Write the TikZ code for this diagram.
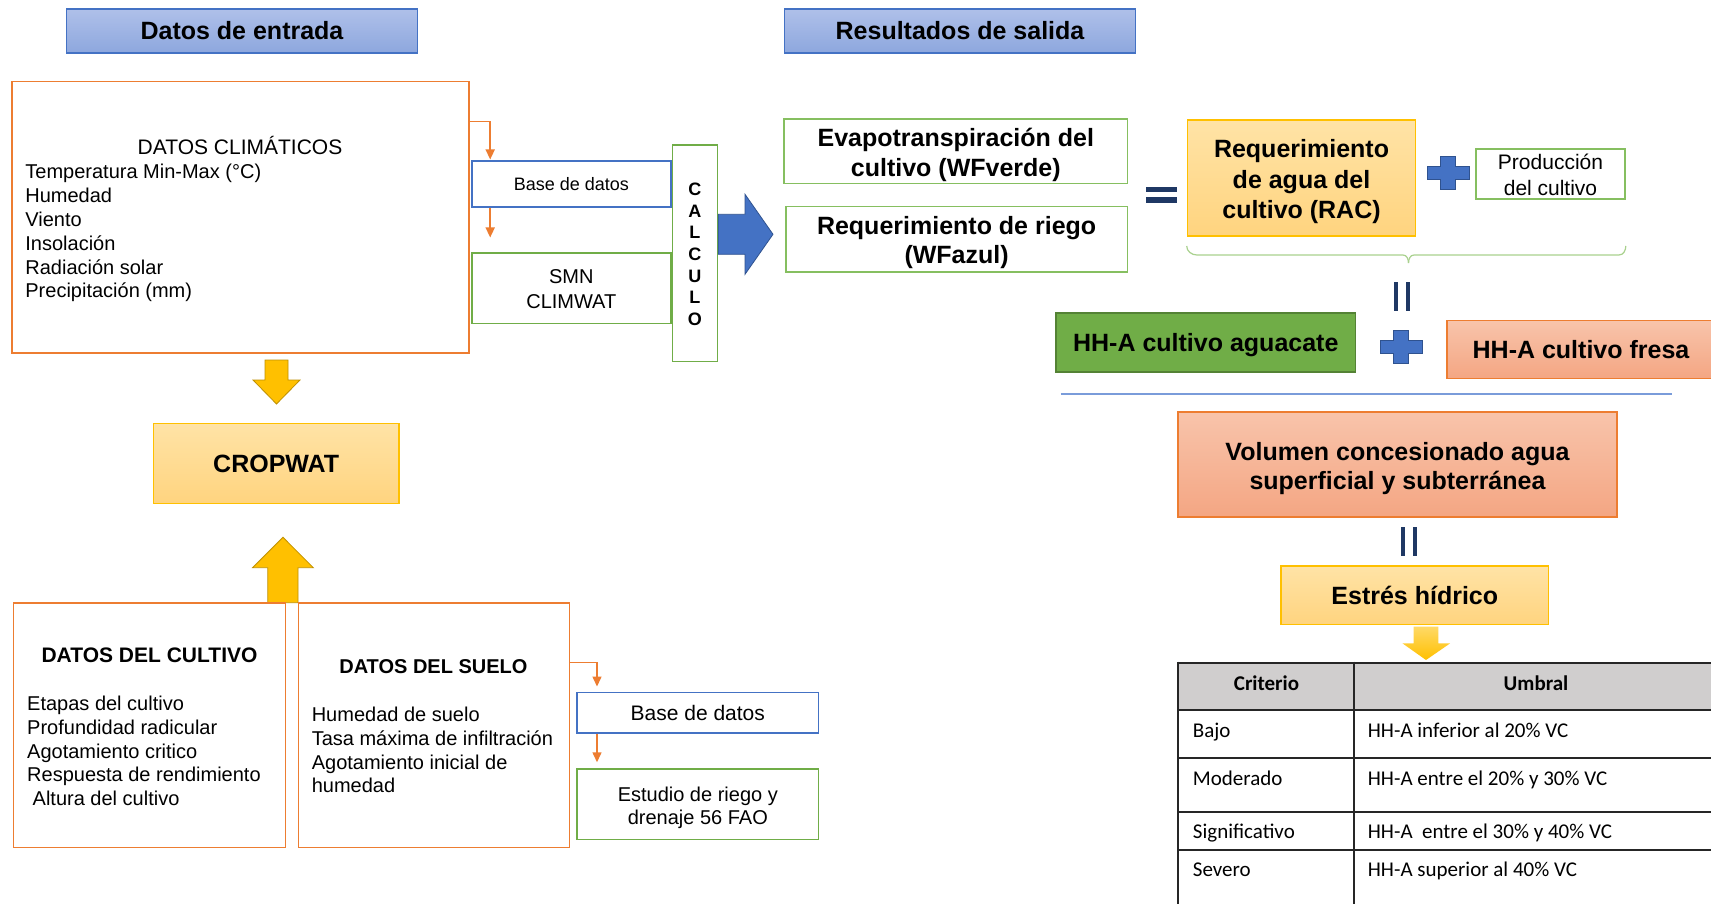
\documentclass[tikz,border=0pt]{standalone}
\usepackage{fontspec}
\setmainfont{Liberation Sans}
\newfontfamily\carlfont{Carlito}
\usetikzlibrary{arrows.meta,calc}
\definecolor{obord}{HTML}{ED7D31}
\definecolor{bbord}{HTML}{4472C4}
\definecolor{gbord}{HTML}{70AD47}
\definecolor{gbordl}{HTML}{86BF60}
\definecolor{ybord}{HTML}{FFC000}
\definecolor{navy}{HTML}{1F3864}
\definecolor{hdrtop}{HTML}{AFC0E9}
\definecolor{hdrbot}{HTML}{8DA7DE}
\definecolor{ytop}{HTML}{FFE3A6}
\definecolor{ybot}{HTML}{FFD47F}
\definecolor{stop}{HTML}{F8C4AB}
\definecolor{sbot}{HTML}{F4A683}
\definecolor{aguaf}{HTML}{70AD47}
\definecolor{aguab}{HTML}{548235}
\definecolor{plusb}{HTML}{2F528F}
\definecolor{tgray}{HTML}{D0CECE}
\definecolor{tline}{HTML}{262626}
\definecolor{ygold}{HTML}{FFC000}
\definecolor{ygoldb}{HTML}{BF9000}
\definecolor{ylite}{HTML}{FFD966}
\definecolor{bracec}{HTML}{A9D18E}
\definecolor{hline}{HTML}{7A9CDA}
\newcommand\fHead{\fontsize{25}{30}\selectfont\bfseries}
\newcommand\fBody{\fontsize{20}{24}\selectfont}
\newcommand\fBodyL{\fontsize{21}{25}\selectfont}
\newcommand\fBodyLb{\fontsize{21}{25}\selectfont\bfseries}
\newcommand\fBodyb{\fontsize{20}{24}\selectfont\bfseries}
\newcommand\fSmall{\fontsize{18}{22}\selectfont}
\newcommand\fCalc{\fontsize{18}{22}\selectfont\bfseries}
\newcommand\fTab{\fontsize{21}{25}\carlfont}
\newcommand\fTabb{\fontsize{21}{25}\carlfont\bfseries}
\tikzset{plussign/.pic={\fill[bbord, draw=plusb, line width=0.8pt] (-7.5,-16.5) -- (7.5,-16.5) -- (7.5,-6.5) -- (21,-6.5) -- (21,6.5) -- (7.5,6.5) -- (7.5,16.5) -- (-7.5,16.5) -- (-7.5,6.5) -- (-21,6.5) -- (-21,-6.5) -- (-7.5,-6.5) -- cycle;}}
\begin{document}
\begin{tikzpicture}[x=1pt,y=-1pt,
  bx/.style={draw, line width=1.6pt, inner sep=0pt},
  tx/.style={inner sep=0pt},
  fH/.style={font=\fHead, text height=18pt, text depth=0pt},
  fB/.style={font=\fBody, text height=14.4pt, text depth=0pt},
  fBL/.style={font=\fBodyL, text height=15.1pt, text depth=0pt},
  fBLb/.style={font=\fBodyLb, text height=15.1pt, text depth=0pt},
  fBb/.style={font=\fBodyb, text height=14.4pt, text depth=0pt},
  fS/.style={font=\fSmall, text height=13pt, text depth=0pt},
  fC/.style={font=\fCalc, text height=13pt, text depth=0pt},
  fT/.style={font=\fTab, text height=13.5pt, text depth=0pt},
  fTb/.style={font=\fTabb, text height=13.5pt, text depth=0pt},
  ob/.style={bx, draw=obord},
  gb/.style={bx, draw=gbord},
  gbl/.style={bx, draw=gbordl},
  blb/.style={bx, draw=bbord},
  hdr/.style={bx, draw=bbord, top color=hdrtop, bottom color=hdrbot, minimum width=351pt, minimum height=44pt, fH},
  yb/.style={bx, draw=ybord, top color=ytop, bottom color=ybot, fH},
  sb/.style={bx, draw=obord, top color=stop, bottom color=sbot, fH},
  oarr/.style={draw=obord, line width=1.5pt, -{Triangle[length=10pt,width=9pt]}},
  yarr/.style={fill=ygold, draw=ygoldb, line width=0.8pt},
  eqbar/.style={fill=navy},
  tab/.style={draw=tline, line width=2pt}
]
\fill[white] (0,0) rectangle (1711,904);
\useasboundingbox (0,0) rectangle (1711,904);

% headers
\node[hdr] (hin) at (242,31) {Datos de entrada};
\node[hdr] (hout) at (960,31) {Resultados de salida};

% climatic data
\node[ob, minimum width=456.6pt, minimum height=271pt] (clim) at (240.4,217.2) {};
\node[tx, fBL] (climt) at (240,146.7) {DATOS CLIMÁTICOS};
\foreach \t [count=\i from 0] in {Temperatura Min-Max (°C), Humedad, Viento, Insolación, Radiación solar, Precipitación (mm)}
  \node[tx, fB, anchor=west] (climl\i) at (25.2,171.7+23.8*\i) {\t};

\node[blb, minimum width=199pt, minimum height=46pt, fS] (bd1) at (571.3,184.3) {Base de datos};
\node[gb, minimum width=199pt, minimum height=70pt] (smn) at (571.3,288.3) {};
\node[tx, fB] (smn1) at (571.3,276.7) {SMN};
\node[tx, fB] (smn2) at (571.3,301) {CLIMWAT};
\node[gb, minimum width=45pt, minimum height=216.7pt] (calc) at (694.9,253.3) {};
\foreach \t [count=\i from 0] in {C,A,L,C,U,L,O}
  \node[tx, fC] (calcl\i) at (694.9,189+21.67*\i) {\t};

\draw[oarr, shorten >=1pt] (clim.east |- 0,121.7) -| ([xshift=19.2pt]bd1.north west);
\draw[oarr] ([xshift=19.2pt]bd1.south west) -- ([xshift=19.2pt,yshift=15pt]smn.north west);

% big blue arrow
\fill[bbord, draw=plusb, line width=0.8pt] (calc.east |- 0,214.3) -- (745,214.3) -- (745,194.3) -- (773,234.3) -- (745,274.3) -- (745,254.3) -- (calc.east |- 0,254.3) -- cycle;

% results
\node[gbl, minimum width=343.5pt, minimum height=64.7pt] (evapo) at (955.8,151.3) {};
\node[tx, fH] (evapo1) at (955.8,137.7) {Evapotranspiración del};
\node[tx, fH] (evapo2) at (955.8,167.3) {cultivo (WFverde)};
\node[gbl, minimum width=341.8pt, minimum height=65pt] (riego) at (956.6,239.2) {};
\node[tx, fH] (riego1) at (956.6,226) {Requerimiento de riego};
\node[tx, fH] (riego2) at (956.6,255) {(WFazul)};

\fill[eqbar] (1146,187) rectangle (1177,192.3);
\fill[eqbar] (1146,197.3) rectangle (1177,202.7);

\node[yb, minimum width=228pt, minimum height=116pt] (rac) at (1301.5,178) {};
\node[tx, fH] (rac1) at (1301.5,148.3) {Requerimiento};
\node[tx, fH] (rac2) at (1301.5,179.3) {de agua del};
\node[tx, fH] (rac3) at (1301.5,210) {cultivo (RAC)};

\pic at (1448,173) {plussign};

\node[gbl, minimum width=149pt, minimum height=50pt] (prod) at (1550.5,174) {};
\node[tx, fBL] (prod1) at (1550.5,162.3) {Producción};
\node[tx, fBL] (prod2) at (1550.5,188.3) {del cultivo};

% brace
\draw[bracec, line width=1.2pt] (rac.south west |- 0,246) to[out=-90,in=180] (1197,255) -- (1403,255) to[out=0,in=90] (1408.5,263);
\draw[bracec, line width=1.2pt] (1408.5,263) to[out=90,in=180] (1414,255) -- (1619,255) to[out=0,in=-90] (prod.south east |- 0,246);

\fill[eqbar] (1393.7,281.7) rectangle (1398,310.7);
\fill[eqbar] (1406,281.7) rectangle (1410,310.7);

\node[bx, draw=aguab, fill=aguaf, minimum width=299.5pt, minimum height=59pt, fH] (agua) at (1205.8,342.2) {HH-A cultivo aguacate};
\pic at (1401,347) {plussign};
\node[sb, minimum width=268pt, minimum height=58pt] (fresa) at (1581,349.3) {HH-A cultivo fresa};

\draw[hline, line width=1.5pt] (1060.8,394) -- (1671.5,394);

\node[sb, minimum width=438.5pt, minimum height=105pt] (vol) at (1397.5,464.2) {};
\node[tx, fH] (vol1) at (1397.5,451) {Volumen concesionado agua};
\node[tx, fH] (vol2) at (1397.5,480) {superficial y subterránea};

\fill[eqbar] (1401,526.7) rectangle (1405,556);
\fill[eqbar] (1412.6,526.7) rectangle (1416.5,556);

\node[yb, minimum width=267.7pt, minimum height=58.3pt] (estres) at (1414.8,595.2) {Estrés hídrico};

\shade[top color=ylite, bottom color=ygold] (1413.7,626.7) -- (1438.3,626.7) -- (1438.3,643.3) -- (1450.2,643.3) -- (1426,660) -- (1402.4,643.3) -- (1413.7,643.3) -- cycle;

% table
\fill[tgray] (1178.3,662.7) rectangle (1725,710);
\foreach \yy in {662.7,710,758.3,811.7,850.3}
  \draw[tab] (1177.3,\yy) -- (1725,\yy);
\draw[tab] (1178.3,661.7) -- (1178.3,910);
\draw[tab] (1353.6,661.7) -- (1353.6,910);
\node[tx, fTb] (thc) at (1266.5,684) {Criterio};
\node[tx, fTb] (thu) at (1536,684) {Umbral};
\node[tx, fT, anchor=west] (r1a) at (1192.7,731) {Bajo};
\node[tx, fT, anchor=west] (r1b) at (1367.7,731) {HH-A inferior al 20\% VC};
\node[tx, fT, anchor=west] (r2a) at (1192.7,778.3) {Moderado};
\node[tx, fT, anchor=west] (r2b) at (1367.7,778.3) {HH-A entre el 20\% y 30\% VC};
\node[tx, fT, anchor=west] (r3a) at (1192.7,831.7) {Significativo};
\node[tx, fT, anchor=west] (r3b) at (1367.7,831.7) {HH-A~ entre el 30\% y 40\% VC};
\node[tx, fT, anchor=west] (r4a) at (1192.7,870) {Severo};
\node[tx, fT, anchor=west] (r4b) at (1367.7,870) {HH-A superior al 40\% VC};

% CROPWAT part
\draw[yarr] (265,360) -- (288,360) -- (288,380) -- (300,380) -- (276.5,404) -- (253,380) -- (265,380) -- cycle;
\node[yb, minimum width=245.6pt, minimum height=80pt] (crop) at (276.2,463.3) {CROPWAT};
\draw[yarr] (267.8,602.7) -- (267.8,567.7) -- (252.6,567.7) -- (283,537.3) -- (313.3,567.7) -- (298,567.7) -- (298,602.7) -- cycle;

\node[ob, minimum width=272pt, minimum height=244.6pt] (cult) at (149.6,725) {};
\node[tx, fBLb] (cultt) at (149.5,654.7) {DATOS DEL CULTIVO};
\foreach \t [count=\i from 0] in {Etapas del cultivo, Profundidad radicular, Agotamiento critico, Respuesta de rendimiento, {\hspace{5.5pt}Altura del cultivo}}
  \node[tx, fB, anchor=west] (cultl\i) at (27,703.5+23.7*\i) {\t};

\node[ob, minimum width=271pt, minimum height=244.6pt] (suelo) at (434.1,725) {};
\node[tx, fBb] (suelot) at (433.4,666) {DATOS DEL SUELO};
\foreach \t [count=\i from 0] in {Humedad de suelo, Tasa máxima de infiltración, Agotamiento inicial de, humedad}
  \node[tx, fB, anchor=west] (suelol\i) at (311.6,714.3+23.8*\i) {\t};

\node[blb, minimum width=241.2pt, minimum height=40.4pt, fBL] (bd2) at (697.8,712.5) {Base de datos};
\node[gb, minimum width=241.2pt, minimum height=70.3pt] (est) at (697.8,804.2) {};
\node[tx, fB] (est1) at (697.8,794) {Estudio de riego y};
\node[tx, fB] (est2) at (697.8,817.7) {drenaje 56 FAO};

\draw[oarr, shorten >=5pt] (suelo.east |- 0,662.7) -| ([xshift=20.6pt]bd2.north west);
\draw[oarr] ([xshift=20.6pt]bd2.south west) -- ([xshift=20.6pt,yshift=6pt]est.north west);
\end{tikzpicture}
\end{document}
